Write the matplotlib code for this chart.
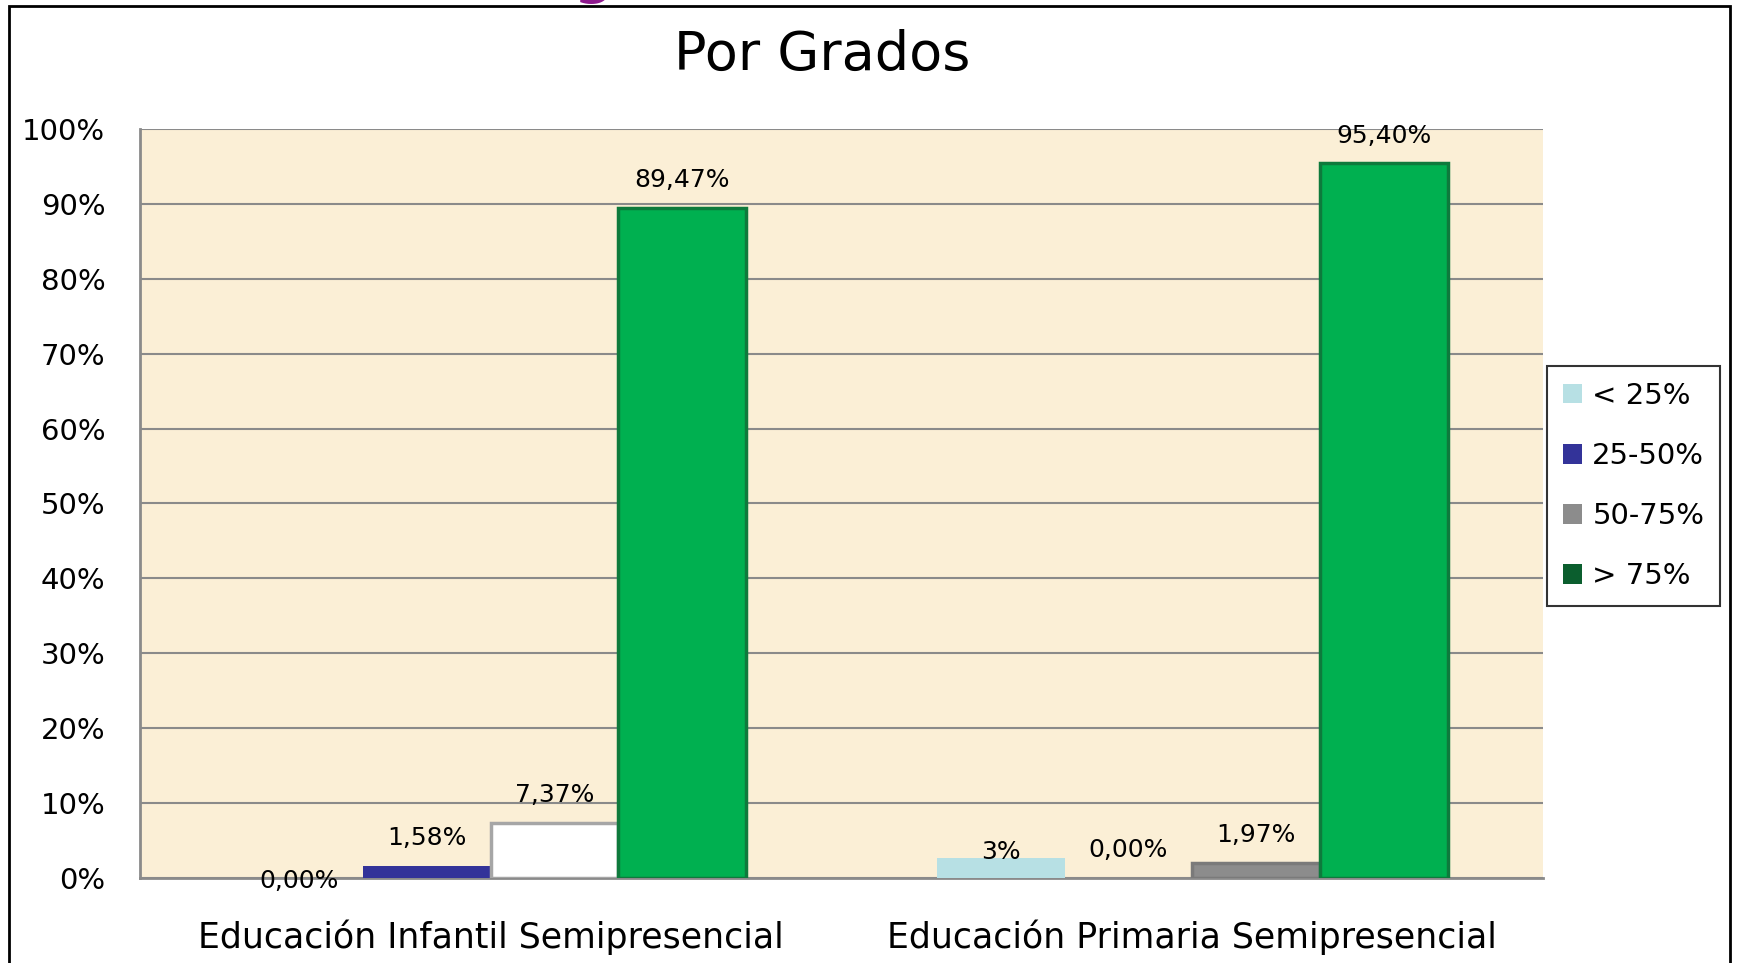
import matplotlib
matplotlib.use("Agg")
import matplotlib.pyplot as plt
from matplotlib.patches import Rectangle, Patch
import numpy as np

categories = ["Educación Infantil Semipresencial", "Educación Primaria Semipresencial"]
series_names = ["< 25%", "25-50%", "50-75%", "> 75%"]
# values per series: [Infantil, Primaria]
v_lt25 = [0.0, 2.6]
v_25_50 = [1.58, 0.0]
v_50_75 = [7.37, 1.97]
v_gt75 = [89.47, 95.40]
values = [v_lt25, v_25_50, v_50_75, v_gt75]
labels_lt25 = ["0,00%", "3%"]
labels_25_50 = ["1,58%", "0,00%"]
labels_50_75 = ["7,37%", "1,97%"]
labels_gt75 = ["89,47%", "95,40%"]
bar_labels = [labels_lt25, labels_25_50, labels_50_75, labels_gt75]
yticks = [0, 10, 20, 30, 40, 50, 60, 70, 80, 90, 100]
ytick_labels = [f"{t}%" for t in yticks]

# styles
bar_colors = [["#B7E0E4", "#B7E0E4"], ["#333399", "#333399"],
              ["#FFFFFF", "#8C8C8C"], ["#00B050", "#00B050"]]
bar_edges = [["none", "none"], ["none", "none"],
             ["#A6A6A6", "#7A7A7A"], ["#0E7A3C", "#0E7A3C"]]
legend_colors = ["#B7E0E4", "#333399", "#8C8C8C", "#0B5E2E"]
label_offsets = [[-2, 5], [20, 20], [20, 20], [20, 20]]  # points

fig = plt.figure(figsize=(17.41, 9.63), dpi=100)
fig.patch.set_facecolor("white")

ax = fig.add_axes([0.0804, 0.0883, 0.8059, 0.7778])
ax.set_facecolor("#FBEFD6")

x = np.arange(len(categories))
w = 0.182
for i, vals in enumerate(values):
    pos = x + (i - 1.5) * w
    for j in range(len(categories)):
        ax.bar(pos[j], vals[j], width=w, color=bar_colors[i][j],
               edgecolor=bar_edges[i][j], linewidth=2.5, zorder=3)
        ax.annotate(bar_labels[i][j], (pos[j], vals[j]),
                    xytext=(0, label_offsets[i][j]), textcoords="offset points",
                    ha="center", va="center", fontsize=18, color="black",
                    family="DejaVu Sans", zorder=5)

ax.set_xlim(-0.5, 1.5)
ax.set_ylim(0, 100)
ax.set_yticks(yticks)
ax.set_yticklabels(ytick_labels, fontsize=21, family="DejaVu Sans")
ax.set_xticks(x)
ax.set_xticklabels(categories, fontsize=25, family="DejaVu Sans")
ax.tick_params(axis="y", length=0, pad=25)
ax.tick_params(axis="x", length=0, pad=30)
ax.yaxis.grid(True, color="#8A8A8A", linewidth=1.5, zorder=1)
ax.set_axisbelow(True)
for s in ["top", "right"]:
    ax.spines[s].set_visible(False)
for s in ["left", "bottom"]:
    ax.spines[s].set_color("#8A8A8A")
    ax.spines[s].set_linewidth(2)

fig.text(0.472, 0.943, "Por Grados", ha="center", va="center", fontsize=39,
         family="DejaVu Sans", color="black")
# purple fragment of a title above the chart, cut by the top edge
fig.text(0.341, 1.0085, "g", ha="center", va="baseline", fontsize=40,
         color="#8E1A8E", family="DejaVu Sans", fontweight="bold")

handles = [Patch(facecolor=c, edgecolor="none") for c in legend_colors]
leg = fig.legend(handles, series_names, loc="upper left",
                 bbox_to_anchor=(0.8886, 0.620), bbox_transform=fig.transFigure,
                 borderaxespad=0, frameon=True, fancybox=False,
                 handlelength=0.65, handleheight=0.65, handletextpad=0.35,
                 labelspacing=1.1, borderpad=0.55,
                 prop={"family": "DejaVu Sans", "size": 21})
leg.get_frame().set_edgecolor("black")
leg.get_frame().set_linewidth(1.5)

border = Rectangle((9 / 1741, -0.02), 1721 / 1741, 1.02 - 6 / 963,
                   transform=fig.transFigure, fill=False, edgecolor="black",
                   linewidth=2, clip_on=False)
fig.add_artist(border)

fig.savefig("out.png", dpi=100)
